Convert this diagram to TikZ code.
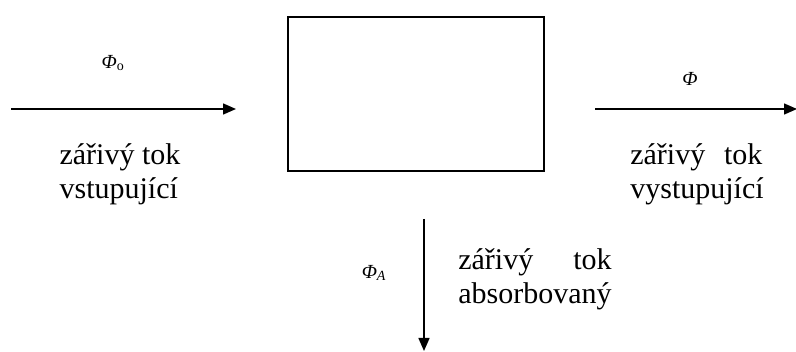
\documentclass[tikz,border=0pt]{standalone}
\usepackage{fontspec}
\setmainfont{Liberation Serif}
\usetikzlibrary{arrows.meta}

\tikzset{
  flow/.style={line width=1.1pt, -{Triangle[length=9.75pt, width=8.25pt]}},
  txt/.style={inner sep=0pt, align=left, font=\fontsize{22.5}{25.5}\selectfont},
  sym/.style={inner sep=0pt, font=\fontsize{15}{17}\selectfont},
}
\newcommand{\jline}[2]{\makebox[#1][s]{#2}}

\begin{document}
\begin{tikzpicture}[x=0.75pt,y=0.75pt,yscale=-1,xscale=1]
\useasboundingbox (0,0) rectangle (796,352);

%Shape: Rectangle
\node [draw, line width=1.1pt, minimum width=192pt, minimum height=115.5pt, inner sep=0pt] (body) at (416,94) {};

%Straight Lines
\coordinate (inA) at (11,109);
\coordinate (inB) at (236,109);
\draw [flow] (inA) -- (inB);
%Straight Lines
\coordinate (outA) at (595,109);
\coordinate (outB) at (797,109);
\draw [flow] (outA) -- (outB);
%Straight Lines
\coordinate (absA) at (424,219);
\coordinate (absB) at (424,351);
\draw [flow] (absA) -- (absB);

% Text Node
\node [sym] (phiin) at (113,63) {\textit{Φ}\textsubscript{o}};
% Text Node
\node [sym] (phiout) at (690,79) {\textit{Φ}};
% Text Node
\node [sym] (phiabs) at (374,273) {\textit{Φ}\textsubscript{\textit{A}}};
% Text Node
\node [txt] (tin) at (120,174) {zářivý tok\\vstupující};
% Text Node
\node [txt] (tout) at (697,174) {\jline{99pt}{zářivý tok}\\vystupující};
% Text Node
\node [txt] (tabs) at (535,279) {\jline{115pt}{zářivý tok}\\absorbovaný};

\end{tikzpicture}
\end{document}
